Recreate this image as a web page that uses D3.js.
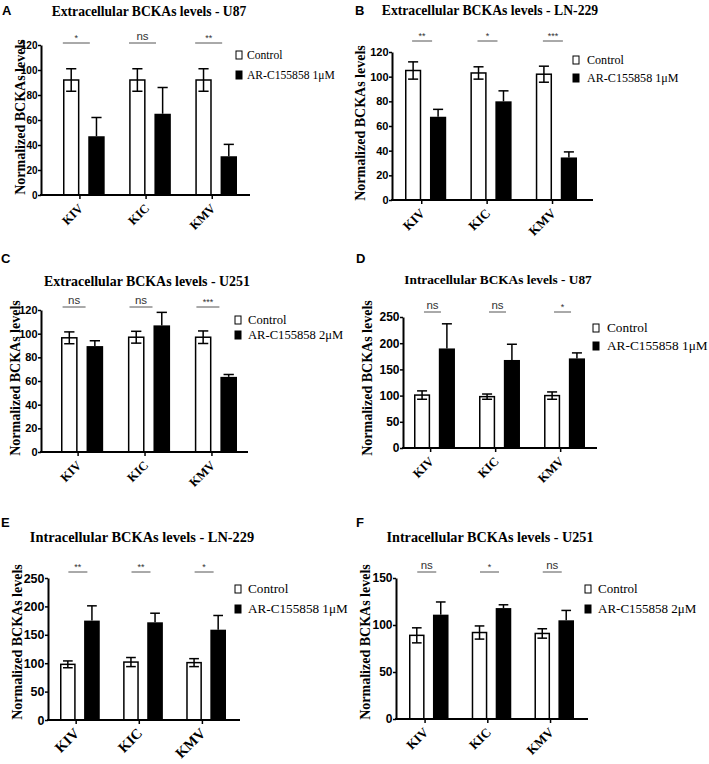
<!DOCTYPE html>
<html>
<head>
<meta charset="utf-8">
<script src="https://cdn.jsdelivr.net/npm/d3@7/dist/d3.min.js"></script>
<style>
  html, body { margin: 0; padding: 0; background: #fff; }
  svg { display: block; }
</style>
</head>
<body>
<div id="chart"></div>
<script>
// ---------------- DATA ----------------
const categories = ["KIV", "KIC", "KMV"];
const seriesKeys = ["control", "treated"];
const panelLetters = ["A", "B", "C", "D", "E", "F"];
const panelTitles = [
  "Extracellular BCKAs levels - U87",
  "Extracellular BCKAs levels - LN-229",
  "Extracellular BCKAs levels - U251",
  "Intracellular BCKAs levels - U87",
  "Intracellular BCKAs levels - LN-229",
  "Intracellular BCKAs levels - U251"
];
const controlLabel = "Control";
const treatedLabels = ["AR-C155858 1μM", "AR-C155858 1μM", "AR-C155858 2μM",
                       "AR-C155858 1μM", "AR-C155858 1μM", "AR-C155858 2μM"];
const yAxisLabel = "Normalized BCKAs levels";
const yMaxes = [120, 120, 120, 250, 250, 150];
const yTickSteps = [20, 20, 20, 50, 50, 50];

// Panel A – Extracellular U87
const controlA = [92, 92, 92];
const controlErrA = [9, 9, 9];
const treatedA = [47, 65, 31];
const treatedErrA = [15, 21, 9.5];
const sigA = ["*", "ns", "**"];
// Panel B – Extracellular LN-229
const controlB = [105, 103, 102];
const controlErrB = [7, 5, 6.5];
const treatedB = [67.5, 80, 34.5];
const treatedErrB = [6, 8.5, 4.5];
const sigB = ["**", "*", "***"];
// Panel C – Extracellular U251
const controlC = [96.5, 97, 97];
const controlErrC = [5, 5, 5.3];
const treatedC = [89.5, 107, 63.5];
const treatedErrC = [4.5, 11, 2];
const sigC = ["ns", "ns", "***"];
// Panel D – Intracellular U87
const controlD = [101, 98, 100];
const controlErrD = [8, 5, 7];
const treatedD = [190, 168, 171];
const treatedErrD = [47, 30, 10.5];
const sigD = ["ns", "ns", "*"];
// Panel E – Intracellular LN-229
const controlE = [98, 102, 101];
const controlErrE = [6, 8, 7];
const treatedE = [175, 172, 159];
const treatedErrE = [26, 16, 25];
const sigE = ["**", "**", "*"];
// Panel F – Intracellular U251
const controlF = [89, 92, 91];
const controlErrF = [8, 7, 5];
const treatedF = [111, 118, 105];
const treatedErrF = [13.5, 3.5, 10.5];
const sigF = ["ns", "*", "ns"];

const panelData = [
  [controlA, controlErrA, treatedA, treatedErrA, sigA],
  [controlB, controlErrB, treatedB, treatedErrB, sigB],
  [controlC, controlErrC, treatedC, treatedErrC, sigC],
  [controlD, controlErrD, treatedD, treatedErrD, sigD],
  [controlE, controlErrE, treatedE, treatedErrE, sigE],
  [controlF, controlErrF, treatedF, treatedErrF, sigF]
];

// ---------------- LAYOUT (pixels) ----------------
const layouts = [
  {axisX: 41, y0: 195, yTop: 45, xEnd: 250, gx: [63, 237], sigY: 43, sigW: 27, sigShift: -7.5,
   title: [149, 16], titleFont: 13.6, letter: [2, 15], legSq: 236, legText: 247, leg: [59, 79], legFont: 11.6,
   ylab: [25, 117], tickFont: 10, xlabFont: 12.5},
  {axisX: 392, y0: 200, yTop: 52, xEnd: 593, gx: [405, 577], sigY: 41, sigW: 20, sigShift: -3.5,
   title: [490, 15], titleFont: 13.7, letter: [355, 15], legSq: 573, legText: 587, leg: [64, 82], legFont: 12.1,
   ylab: [365, 123], tickFont: 11, xlabFont: 13},
  {axisX: 41, y0: 452, yTop: 310, xEnd: 248, gx: [61, 237], sigY: 307, sigW: 23, sigShift: -8,
   title: [147, 286], titleFont: 13.9, letter: [1, 263], legSq: 235, legText: 248, leg: [324, 339], legFont: 12.6,
   ylab: [20, 378], tickFont: 11, xlabFont: 12.5},
  {axisX: 403, y0: 448, yTop: 317, xEnd: 597, gx: [414, 585], sigY: 312, sigW: 17, sigShift: -2,
   title: [498, 284], titleFont: 13.3, letter: [356, 263], legSq: 593, legText: 607, leg: [332, 350], legFont: 13.3,
   ylab: [372, 378], tickFont: 12, xlabFont: 12.5},
  {axisX: 48, y0: 720, yTop: 578, xEnd: 240, gx: [60, 226], sigY: 572, sigW: 19, sigShift: -2,
   title: [142, 542], titleFont: 14.4, letter: [1, 527], legSq: 235, legText: 248, leg: [593, 613], legFont: 13.2,
   ylab: [22, 642], tickFont: 12.5, xlabFont: 14.5},
  {axisX: 396, y0: 719, yTop: 578, xEnd: 588, gx: [409, 574], sigY: 572, sigW: 19, sigShift: -2,
   title: [490, 542], titleFont: 14.2, letter: [356, 527], legSq: 585, legText: 598, leg: [593, 613], legFont: 13,
   ylab: [370, 642], tickFont: 12, xlabFont: 13}
];

const SERIF = "'Liberation Serif', 'Times New Roman', Times, serif";
const SANS = "'Liberation Sans', Arial, Helvetica, sans-serif";

const W = 709, H = 764;
const svg = d3.select("#chart").append("svg")
  .attr("width", W).attr("height", H)
  .attr("viewBox", `0 0 ${W} ${H}`);
svg.append("rect").attr("width", W).attr("height", H).attr("fill", "#fff");

function drawPanel(i) {
  const L = layouts[i];
  const [ctrl, ctrlErr, trt, trtErr, sig] = panelData[i];
  const rows = categories.map((c, k) => ({
    cat: c, control: ctrl[k], controlErr: ctrlErr[k], treated: trt[k], treatedErr: trtErr[k], sig: sig[k]
  }));
  const g = svg.append("g");

  const y = d3.scaleLinear().domain([0, yMaxes[i]]).range([L.y0, L.yTop]);
  const x0 = d3.scaleBand().domain(categories).range(L.gx).paddingInner(0.37).paddingOuter(0);
  const x1 = d3.scaleBand().domain(seriesKeys).range([0, x0.bandwidth()]).paddingInner(0.35);
  const bw = x1.bandwidth();
  const capHalf = bw * 0.31;

  // panel letter
  g.append("text").attr("x", L.letter[0]).attr("y", L.letter[1])
    .attr("font-family", SANS).attr("font-weight", "bold").attr("font-size", 13)
    .text(panelLetters[i]);

  // title
  g.append("text").attr("x", L.title[0]).attr("y", L.title[1])
    .attr("text-anchor", "middle")
    .attr("font-family", SERIF).attr("font-weight", "bold").attr("font-size", L.titleFont)
    .text(panelTitles[i]);

  // y label
  g.append("text")
    .attr("transform", `translate(${L.ylab[0]},${L.ylab[1]}) rotate(-90)`)
    .attr("text-anchor", "middle")
    .attr("font-family", SERIF).attr("font-weight", "bold").attr("font-size", 14)
    .text(yAxisLabel);

  // bars
  const groups = g.selectAll("g.grp").data(rows).join("g")
    .attr("class", "grp")
    .attr("transform", d => `translate(${x0(d.cat)},0)`);

  groups.append("rect")
    .attr("x", x1("control") + 0.75)
    .attr("y", d => y(d.control))
    .attr("width", bw - 1.5)
    .attr("height", d => y(0) - y(d.control))
    .attr("fill", "#fff").attr("stroke", "#000").attr("stroke-width", 1.5);
  groups.append("rect")
    .attr("x", x1("treated"))
    .attr("y", d => y(d.treated))
    .attr("width", bw)
    .attr("height", d => y(0) - y(d.treated))
    .attr("fill", "#000");

  // control error bars (two-sided)
  const cx = x1("control") + bw / 2;
  groups.append("line")
    .attr("x1", cx).attr("x2", cx)
    .attr("y1", d => y(d.control - d.controlErr)).attr("y2", d => y(d.control + d.controlErr))
    .attr("stroke", "#000").attr("stroke-width", 1.5);
  groups.append("line")
    .attr("x1", cx - capHalf).attr("x2", cx + capHalf)
    .attr("y1", d => y(d.control + d.controlErr)).attr("y2", d => y(d.control + d.controlErr))
    .attr("stroke", "#000").attr("stroke-width", 1.5);
  groups.append("line")
    .attr("x1", cx - capHalf).attr("x2", cx + capHalf)
    .attr("y1", d => y(d.control - d.controlErr)).attr("y2", d => y(d.control - d.controlErr))
    .attr("stroke", "#000").attr("stroke-width", 1.5);

  // treated error bars (upper only)
  const tx = x1("treated") + bw / 2;
  groups.append("line")
    .attr("x1", tx).attr("x2", tx)
    .attr("y1", d => y(d.treated)).attr("y2", d => y(d.treated + d.treatedErr))
    .attr("stroke", "#000").attr("stroke-width", 1.5);
  groups.append("line")
    .attr("x1", tx - capHalf).attr("x2", tx + capHalf)
    .attr("y1", d => y(d.treated + d.treatedErr)).attr("y2", d => y(d.treated + d.treatedErr))
    .attr("stroke", "#000").attr("stroke-width", 1.5);

  // significance annotations
  const gc = x0.bandwidth() / 2 + L.sigShift;
  groups.append("line")
    .attr("x1", gc - L.sigW / 2).attr("x2", gc + L.sigW / 2)
    .attr("y1", L.sigY).attr("y2", L.sigY)
    .attr("stroke", "#555").attr("stroke-width", 1);
  groups.append("text")
    .attr("x", gc)
    .attr("y", d => d.sig === "ns" ? L.sigY - 3 : L.sigY - 2)
    .attr("text-anchor", "middle")
    .attr("font-family", SANS)
    .attr("font-size", d => d.sig === "ns" ? 11.5 : 9)
    .attr("fill", "#333")
    .text(d => d.sig);

  // y axis
  const yAxis = d3.axisLeft(y)
    .tickValues(d3.range(0, yMaxes[i] + 1, yTickSteps[i]))
    .tickSize(3).tickSizeOuter(0).tickPadding(0.5);
  const ya = g.append("g").attr("transform", `translate(${L.axisX},0)`).call(yAxis);
  ya.select(".domain").attr("stroke", "#000").attr("stroke-width", 2);
  ya.selectAll(".tick line").attr("stroke", "#000").attr("stroke-width", 1.5);
  ya.selectAll(".tick text")
    .attr("font-family", SANS).attr("font-weight", "bold").attr("font-size", L.tickFont)
    .attr("fill", "#000");

  // x axis: ticks below the control bar's right edge
  const xTick = d3.scaleOrdinal().domain(categories)
    .range(categories.map(c => x0(c) + x1("control") + bw));
  const xAxis = d3.axisBottom(xTick).tickSize(4).tickSizeOuter(0);
  const xa = g.append("g").attr("transform", `translate(0,${L.y0})`).call(xAxis);
  xa.select(".domain").remove();
  xa.selectAll(".tick line").attr("stroke", "#000").attr("stroke-width", 1.5);
  xa.selectAll(".tick text")
    .attr("x", 0).attr("y", 0).attr("dy", 0)
    .attr("transform", "translate(4,14) rotate(-45)")
    .attr("text-anchor", "end")
    .attr("font-family", SERIF).attr("font-weight", "bold").attr("font-size", L.xlabFont)
    .attr("fill", "#000");
  g.append("line")
    .attr("x1", L.axisX - 1).attr("x2", L.xEnd)
    .attr("y1", L.y0).attr("y2", L.y0)
    .attr("stroke", "#000").attr("stroke-width", 2);

  // legend
  const lg = g.append("g");
  const legItems = [
    {label: controlLabel, fill: "#fff", y: L.leg[0]},
    {label: treatedLabels[i], fill: "#000", y: L.leg[1]}
  ];
  lg.selectAll("rect").data(legItems).join("rect")
    .attr("x", L.legSq).attr("y", d => d.y - 8)
    .attr("width", 6).attr("height", 8)
    .attr("fill", d => d.fill).attr("stroke", "#000").attr("stroke-width", 1);
  lg.selectAll("text").data(legItems).join("text")
    .attr("x", L.legText).attr("y", d => d.y)
    .attr("font-family", SERIF).attr("font-size", L.legFont).attr("fill", "#000")
    .text(d => d.label);
}

for (let i = 0; i < 6; i++) drawPanel(i);
</script>
</body>
</html>
